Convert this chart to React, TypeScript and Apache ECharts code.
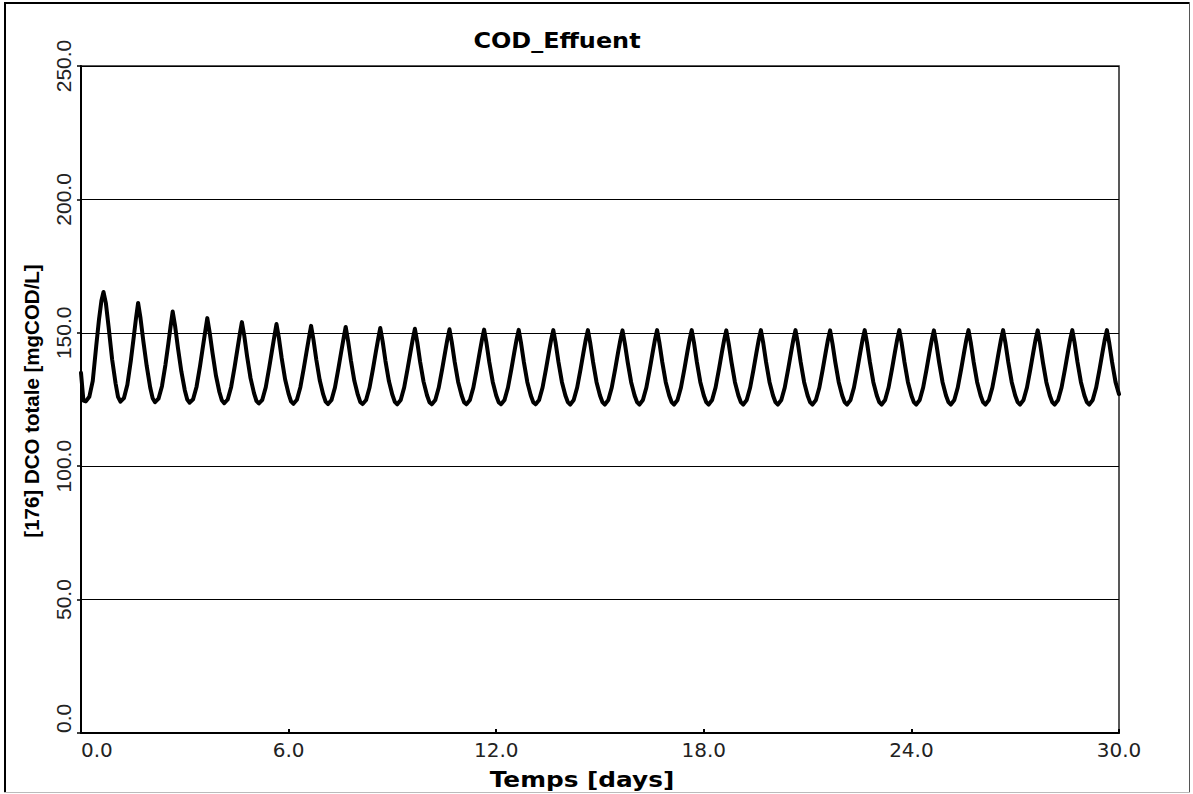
import React, { useEffect, useRef } from "react";
import * as echarts from "echarts";

// Sample phases within each day (fraction of a day)
const PHASES = [0, 0.07, 0.14, 0.24, 0.34, 0.44, 0.52, 0.59, 0.65, 0.72, 0.8, 0.9];

// COD effluent values [mgCOD/L], one row per day, read at the phases above
const COD_BY_DAY: number[][] = [
  [135.0, 124.6, 124.3, 126.0, 132.0, 145.0, 155.0, 162.0, 165.3, 161.0, 152.0, 140.0],
  [131.0, 126.0, 124.2, 125.5, 130.5, 139.5, 148.0, 155.5, 161.2, 155.5, 147.0, 137.5],
  [129.5, 125.5, 124.0, 125.3, 130.0, 138.0, 145.5, 152.5, 158.0, 152.5, 144.5, 135.5],
  [128.5, 125.0, 123.8, 125.1, 129.8, 137.5, 144.5, 150.5, 155.5, 150.0, 142.5, 134.0],
  [127.8, 124.7, 123.6, 125.0, 129.7, 137.2, 143.8, 149.5, 154.0, 148.8, 141.2, 133.0],
  [127.4, 124.5, 123.5, 124.9, 129.6, 137.0, 143.3, 148.8, 153.3, 148.0, 140.5, 132.5],
  [127.1, 124.3, 123.4, 124.9, 129.6, 136.8, 143.0, 148.3, 152.6, 147.3, 140.0, 132.2],
  [126.9, 124.2, 123.3, 124.8, 129.5, 136.7, 142.8, 148.0, 152.2, 146.9, 139.7, 132.0],
  [126.8, 124.1, 123.3, 124.8, 129.5, 136.6, 142.7, 147.8, 151.8, 146.6, 139.4, 131.8],
  [126.7, 124.1, 123.2, 124.8, 129.5, 136.6, 142.6, 147.7, 151.5, 146.4, 139.2, 131.7],
  [126.6, 124.0, 123.2, 124.8, 129.5, 136.5, 142.5, 147.6, 151.3, 146.2, 139.1, 131.6],
  [126.6, 124.0, 123.2, 124.8, 129.5, 136.5, 142.5, 147.5, 151.2, 146.1, 139.0, 131.6],
  [126.5, 124.0, 123.2, 124.8, 129.5, 136.5, 142.5, 147.5, 151.1, 146.0, 139.0, 131.5],
  [126.5, 124.0, 123.2, 124.8, 129.5, 136.5, 142.5, 147.5, 151.0, 146.0, 139.0, 131.5],
  [126.5, 124.0, 123.1, 124.8, 129.5, 136.5, 142.5, 147.5, 151.0, 146.0, 139.0, 131.5],
  [126.5, 124.0, 123.1, 124.8, 129.5, 136.5, 142.5, 147.4, 150.9, 145.9, 139.0, 131.5],
  [126.5, 124.0, 123.1, 124.8, 129.5, 136.5, 142.5, 147.5, 151.0, 146.0, 139.0, 131.5],
  [126.5, 124.0, 123.1, 124.8, 129.5, 136.5, 142.5, 147.5, 151.0, 146.0, 139.0, 131.5],
  [126.5, 124.0, 123.1, 124.8, 129.5, 136.5, 142.5, 147.4, 150.9, 145.9, 139.0, 131.5],
  [126.5, 124.0, 123.1, 124.8, 129.5, 136.5, 142.5, 147.5, 151.0, 146.0, 139.0, 131.5],
  [126.5, 124.0, 123.1, 124.8, 129.5, 136.5, 142.5, 147.5, 151.0, 146.0, 139.0, 131.5],
  [126.5, 124.0, 123.1, 124.8, 129.5, 136.5, 142.5, 147.5, 150.9, 145.9, 139.0, 131.5],
  [126.5, 124.0, 123.1, 124.8, 129.5, 136.5, 142.5, 147.5, 151.0, 146.0, 139.0, 131.5],
  [126.5, 124.0, 123.1, 124.8, 129.5, 136.5, 142.5, 147.5, 151.0, 146.0, 139.0, 131.5],
  [126.5, 124.0, 123.1, 124.8, 129.5, 136.5, 142.5, 147.4, 150.9, 145.9, 139.0, 131.5],
  [126.5, 124.0, 123.1, 124.8, 129.5, 136.5, 142.5, 147.5, 151.0, 146.0, 139.0, 131.5],
  [126.5, 124.0, 123.1, 124.8, 129.5, 136.5, 142.5, 147.5, 151.0, 146.0, 139.0, 131.5],
  [126.5, 124.0, 123.1, 124.8, 129.5, 136.5, 142.5, 147.5, 150.9, 145.9, 139.0, 131.5],
  [126.5, 124.0, 123.1, 124.8, 129.5, 136.5, 142.5, 147.5, 151.0, 146.0, 139.0, 131.5],
  [126.5, 124.0, 123.1, 124.8, 129.5, 136.5, 142.5, 147.5, 151.0, 146.0, 139.0, 131.5],
];
const END_TIME = 30;
const END_VALUE = 127.0;

const TITLE = "COD_Effuent";
const X_NAME = "Temps [days]";
const Y_NAME = "[176] DCO totale [mgCOD/L]";
const X_MIN = 0;
const X_MAX = 30;
const X_STEP = 6;
const Y_MIN = 0;
const Y_MAX = 250;
const Y_STEP = 50;

function buildSeries(): [number, number][] {
  const pts: [number, number][] = [];
  COD_BY_DAY.forEach((row, day) => {
    row.forEach((v, i) => pts.push([day + PHASES[i], v]));
  });
  pts.push([END_TIME, END_VALUE]);
  return pts;
}

export default function App() {
  const ref = useRef<HTMLDivElement>(null);
  useEffect(() => {
    document.body.style.margin = "0";
    if (!ref.current) return;
    const chart = echarts.init(ref.current, undefined, { renderer: "svg" });
    const fmt = (v: number) => v.toFixed(1);
    chart.setOption({
      animation: false,
      backgroundColor: "#fff",
      grid: {
        left: 81,
        top: 66,
        right: 74,
        bottom: 61,
        show: true,
        borderColor: "#222",
        borderWidth: 1.5,
        backgroundColor: "transparent",
      },
      xAxis: {
        type: "value",
        min: X_MIN,
        max: X_MAX,
        interval: X_STEP,
        axisLine: { show: true, lineStyle: { color: "#000", width: 2 } },
        axisTick: { show: true, inside: true, length: 4, lineStyle: { color: "#000", width: 2 } },
        axisLabel: {
          formatter: fmt,
          fontFamily: "DejaVu Sans",
          fontSize: 20,
          color: "#222",
          margin: 7,
          alignMinLabel: "left",
        },
        splitLine: { show: false },
      },
      yAxis: {
        type: "value",
        min: Y_MIN,
        max: Y_MAX,
        interval: Y_STEP,
        axisLine: { show: true, lineStyle: { color: "#000", width: 2 } },
        axisTick: { show: true, inside: false, length: 4, lineStyle: { color: "#000", width: 1.5 } },
        axisLabel: {
          rotate: 90,
          formatter: fmt,
          fontFamily: "Liberation Sans",
          fontSize: 21,
          color: "#222",
          margin: 7,
          alignMinLabel: "left",
        },
        splitLine: { show: true, lineStyle: { color: "#000", width: 1 } },
      },
      series: [
        {
          type: "line",
          data: buildSeries(),
          showSymbol: false,
          symbol: "none",
          lineStyle: { color: "#000", width: 4, join: "round", cap: "round" },
          z: 3,
        },
      ],
      graphic: [
        {
          type: "text",
          x: 557,
          y: 41,
          scaleX: 1.14,
          style: {
            text: TITLE,
            fontFamily: "DejaVu Sans",
            fontWeight: "bold",
            fontSize: 21,
            fill: "#000",
            align: "center",
            verticalAlign: "middle",
          },
        },
        {
          type: "text",
          x: 582,
          y: 780,
          scaleX: 1.18,
          style: {
            text: X_NAME,
            fontFamily: "DejaVu Sans",
            fontWeight: "bold",
            fontSize: 21,
            fill: "#000",
            align: "center",
            verticalAlign: "middle",
          },
        },
        {
          type: "text",
          x: 31,
          y: 401,
          rotation: Math.PI / 2,
          style: {
            text: Y_NAME,
            fontFamily: "Liberation Sans",
            fontWeight: "bold",
            fontSize: 20.5,
            fill: "#000",
            align: "center",
            verticalAlign: "middle",
          },
        },
        { type: "line", shape: { x1: 5, y1: 2, x2: 5, y2: 793 }, style: { stroke: "#000", lineWidth: 2 } },
        { type: "line", shape: { x1: 4, y1: 3, x2: 1190, y2: 3 }, style: { stroke: "#000", lineWidth: 2 } },
        { type: "line", shape: { x1: 1189.5, y1: 2, x2: 1189.5, y2: 793 }, style: { stroke: "#555", lineWidth: 1 } },
        { type: "line", shape: { x1: 4, y1: 792.5, x2: 1190, y2: 792.5 }, style: { stroke: "#bbb", lineWidth: 1 } },
      ],
    });
    return () => chart.dispose();
  }, []);
  return <div ref={ref} style={{ width: 1193, height: 794 }} />;
}
